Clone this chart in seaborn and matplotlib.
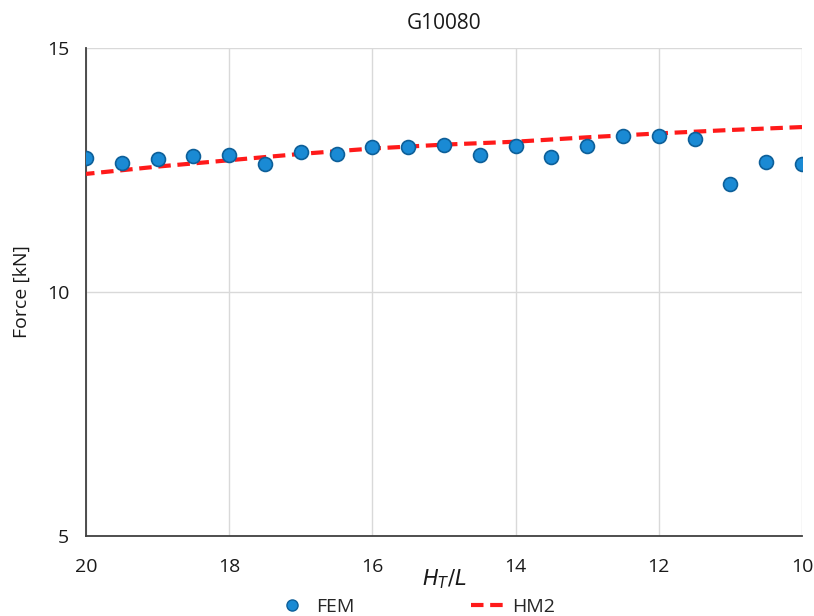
import numpy as np
import pandas as pd
import matplotlib
matplotlib.use("Agg")
import matplotlib.pyplot as plt
import seaborn as sns
from matplotlib.lines import Line2D

# Data
fem_x = [20, 19.5, 19, 18.5, 18, 17.5, 17, 16.5, 16, 15.5, 15, 14.5, 14, 13.5, 13, 12.5, 12, 11.5, 11, 10.5, 10]
fem_y = [12.75, 12.64, 12.73, 12.79, 12.81, 12.62, 12.87, 12.83, 12.97, 12.97, 13.01, 12.81, 12.99, 12.77, 12.99, 13.20, 13.20, 13.14, 12.21, 12.66, 12.62]
hm2_x = [20, 19, 18, 17, 16, 15, 14, 13, 12, 11, 10]
hm2_y = [12.42, 12.57, 12.70, 12.83, 12.94, 13.02, 13.08, 13.17, 13.25, 13.32, 13.38]
x_ticks = [20, 18, 16, 14, 12, 10]
y_ticks = [5, 10, 15]

sns.set_theme(style="white")
plt.rcParams['font.family'] = ['Open Sans', 'DejaVu Sans']

fig = plt.figure(figsize=(8.14, 6.16), dpi=100)
ax = fig.add_axes([86/814, 1-536/616, (802-86)/814, (536-48)/616])

fem_df = pd.DataFrame({"x": fem_x, "y": fem_y})
hm2_df = pd.DataFrame({"x": hm2_x, "y": hm2_y})

sns.lineplot(data=hm2_df, x="x", y="y", ax=ax, color="#ff1a1a", lw=3,
             linestyle=(0, (3, 1.6)), zorder=3)
sns.scatterplot(data=fem_df, x="x", y="y", ax=ax, s=100, color="#1a8ad4",
                edgecolor="#0d5f99", linewidth=1.2, zorder=4)

ax.set_xlim(20, 10)
ax.set_ylim(5, 15)
ax.set_xticks(x_ticks)
ax.set_yticks(y_ticks)
ax.grid(True, axis="both", color="#d9d9d9", lw=1)
ax.set_axisbelow(True)
for s in ["top", "right"]:
    ax.spines[s].set_visible(False)
for s in ["left", "bottom"]:
    ax.spines[s].set_color("#404040")
    ax.spines[s].set_linewidth(1.3)
ax.tick_params(axis="both", direction="inout", length=10, width=1.2, color="#404040",
               labelsize=14, labelcolor="#1a1a1a", pad=7)
ax.tick_params(axis="x", pad=11)
ax.set_xlabel(r"$H_T/L$", fontsize=15, labelpad=-6, color="#1a1a1a")
ax.set_ylabel("Force [kN]", fontsize=14, color="#1a1a1a", labelpad=12)
ax.set_title("G10080", fontsize=15, color="#1a1a1a", pad=14)

handles = [Line2D([], [], marker="o", ls="none", markersize=8, markerfacecolor="#1a8ad4",
                  markeredgecolor="#0d5f99", label="FEM"),
           Line2D([], [], color="#ff1a1a", lw=3, ls=(0, (3, 1.6)), label="HM2")]
fig.legend(handles=handles, loc="lower center", bbox_to_anchor=(0.51, -0.028), ncol=2,
           frameon=False, fontsize=14, columnspacing=6.0, handlelength=1.7,
           handletextpad=0.4)

fig.savefig("out.png", dpi=100)
